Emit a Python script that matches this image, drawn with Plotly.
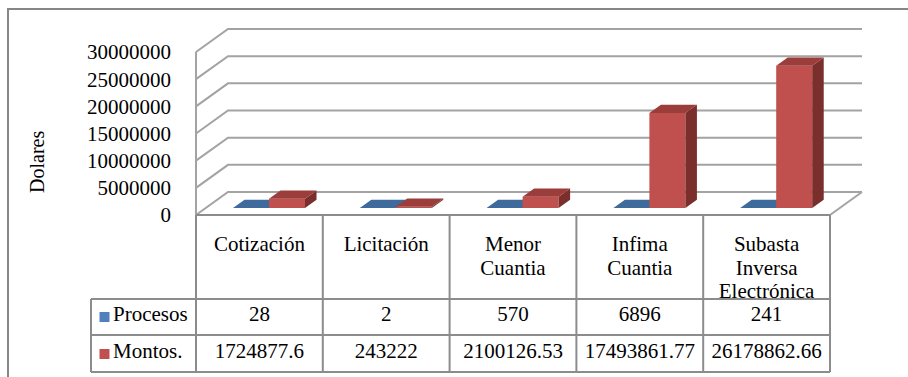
import plotly.graph_objects as go

# ---- data ----
categorias = ["Cotización", "Licitación", "Menor<br>Cuantia", "Infima<br>Cuantia",
              "Subasta<br>Inversa<br>Electrónica"]
procesos = [28, 2, 570, 6896, 241]
montos = [1724877.6, 243222, 2100126.53, 17493861.77, 26178862.66]
series_nombres = ["Procesos", "Montos."]
ticks_y = [0, 5000000, 10000000, 15000000, 20000000, 25000000, 30000000]

# ---- layout constants (pixels) ----
W, H = 908, 377
COL0, COLW = 196.0, 126.8          # left edge of first category column, column width
Y0 = 215.0                         # front floor line
PX_PER_UNIT = 27.17 / 5000000      # vertical pixels per dollar
DEPTH_PX = (32.0, 23.0)            # 3D depth offset (right, up)
ROW_LINES = [215, 299, 335, 372]   # table horizontal rules
LEG_LEFT = 91.0

FONT = "Times New Roman"
FS = 21
BLUE = ["#4F81BD", "#3F6A9C", "#2F5580"]   # front, top, side
RED = ["#C0504D", "#9B3D3A", "#7A2F2D"]
GRID = "#a3a3a3"
RULE = "#8c8c8c"


def ux(px):
    return (px - COL0) / COLW - 0.5


DX = DEPTH_PX[0] / COLW
DY = DEPTH_PX[1] / PX_PER_UNIT
XL, XR = -0.5, len(categorias) - 0.5

fig = go.Figure()

# ---- walls and floor of the 3D box ----
gx, gy = [], []
for v in ticks_y:
    gx += [XL, XL + DX, XR + DX, None]
    gy += [v, v + DY, v + DY, None]
gx += [XL, XL, None, XR, XR + DX, None]
gy += [0, ticks_y[-1], None, 0, DY, None]
fig.add_trace(go.Scatter(x=gx, y=gy, mode="lines", line=dict(color=GRID, width=2),
                         hoverinfo="skip", showlegend=False))

# ---- 3D columns ----
BAR_W = 36.0 / COLW
D0, BD = 0.30, 0.36


def faces(values, side):
    fr = ([], [])
    sd = ([], [])
    tp = ([], [])
    for i, v in enumerate(values):
        xl = i - BAR_W if side == 0 else i
        xr = xl + BAR_W
        xl += D0 * DX
        xr += D0 * DX
        b = D0 * DY
        t = b + v
        ddx, ddy = BD * DX, BD * DY
        fr[0].extend([xl, xr, xr, xl, xl, None])
        fr[1].extend([b, b, t, t, b, None])
        sd[0].extend([xr, xr + ddx, xr + ddx, xr, xr, None])
        sd[1].extend([b, b + ddy, t + ddy, t, b, None])
        tp[0].extend([xl, xr, xr + ddx, xl + ddx, xl, None])
        tp[1].extend([t, t, t + ddy, t + ddy, t, None])
    return fr, sd, tp


for k, (vals, cols) in enumerate([(procesos, BLUE), (montos, RED)]):
    fr, sd, tp = faces(vals, k)
    for (xs, ys), c in zip([fr, sd, tp], [cols[0], cols[2], cols[1]]):
        fig.add_trace(go.Scatter(x=xs, y=ys, mode="lines", fill="toself", fillcolor=c,
                                 line=dict(width=0, color=c), hoverinfo="skip",
                                 showlegend=False))

# ---- data table text ----
tfont = dict(family=FONT, size=FS, color="black")
hx, hy, ht = [], [], []
for i, c in enumerate(categorias):
    for j, line in enumerate(c.split("<br>")):
        hx.append(i)
        hy.append(246 + 23.5 * j)
        ht.append(line)
fig.add_trace(go.Scatter(x=hx, y=hy, text=ht, mode="text", textposition="middle center",
                         textfont=tfont, yaxis="y2", hoverinfo="skip", showlegend=False,
                         cliponaxis=False))

row_y = [316, 353]
for r, vals in enumerate([procesos, montos]):
    fig.add_trace(go.Scatter(x=list(range(len(vals))), y=[row_y[r]] * len(vals),
                             text=[str(v) for v in vals], mode="text",
                             textposition="middle center", textfont=tfont,
                             yaxis="y2", hoverinfo="skip", showlegend=False))

fig.add_trace(go.Scatter(x=[ux(104.5)] * 2, y=[row_y[0] + 1, row_y[1] + 1], mode="markers",
                         marker=dict(symbol="square", size=10, color=[BLUE[0], RED[0]],
                                     line=dict(width=0)),
                         yaxis="y2", hoverinfo="skip", showlegend=False))
fig.add_trace(go.Scatter(x=[ux(113)] * 2, y=row_y, text=series_nombres, mode="text",
                         textposition="middle right", textfont=tfont,
                         yaxis="y2", hoverinfo="skip", showlegend=False))

shapes = []
# mask for the header text that runs past its cell
shapes.append(dict(type="rect", xref="x", yref="y2", x0=XR - 1, x1=XR, y0=300, y1=306,
                   fillcolor="white", line=dict(width=0), layer="above"))
for k, yv in enumerate(ROW_LINES):
    x0 = XL if k == 0 else ux(LEG_LEFT)
    shapes.append(dict(type="line", xref="x", yref="y2", x0=x0, x1=XR, y0=yv, y1=yv,
                       line=dict(color=RULE, width=2), layer="above"))
for i in range(len(categorias) + 1):
    shapes.append(dict(type="line", xref="x", yref="y2", x0=XL + i, x1=XL + i,
                       y0=ROW_LINES[0], y1=ROW_LINES[-1],
                       line=dict(color=RULE, width=2), layer="above"))
shapes.append(dict(type="line", xref="x", yref="y2", x0=ux(LEG_LEFT), x1=ux(LEG_LEFT),
                   y0=ROW_LINES[1], y1=ROW_LINES[-1], line=dict(color=RULE, width=2),
                   layer="above"))
# chart frame
shapes.append(dict(type="path", xref="paper", yref="paper",
                   path=f"M {8/W},0 L {8/W},{1-9/H} L 1,{1-9/H}",
                   line=dict(color="#868686", width=2), layer="above"))

fig.update_layout(
    width=W, height=H,
    margin=dict(l=0, r=0, t=0, b=0),
    paper_bgcolor="white", plot_bgcolor="white",
    showlegend=False,
    shapes=shapes,
    font=dict(family=FONT, size=FS, color="black"),
    xaxis=dict(domain=[0, 1], range=[ux(0), ux(W)], visible=False, fixedrange=True),
    yaxis=dict(domain=[0, 1], range=[(Y0 - H) / PX_PER_UNIT, Y0 / PX_PER_UNIT],
               anchor="free", position=195 / W, side="left",
               tickvals=ticks_y, ticktext=[str(t) for t in ticks_y], ticks="",
               ticklabelstandoff=24,
               showgrid=False, zeroline=False, showline=False,
               tickfont=tfont, fixedrange=True),
    yaxis2=dict(domain=[0, 1], range=[H, 0], overlaying="y", anchor="x",
                visible=False, fixedrange=True),
    annotations=[dict(text="Dolares", xref="paper", yref="paper", x=37 / W, y=1 - 162 / H,
                      xanchor="center", yanchor="middle",
                      textangle=-90, showarrow=False,
                      font=dict(family=FONT, size=20, color="black"))],
)

fig.write_html("out.html")
